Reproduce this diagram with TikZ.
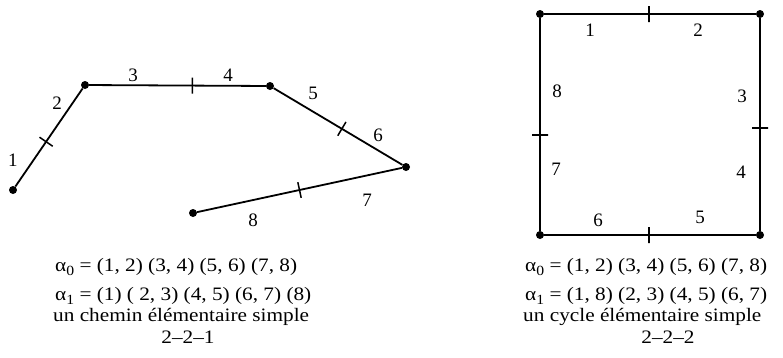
\documentclass[tikz,border=0pt]{standalone}
\usepackage{fontspec}
\setmainfont{Liberation Serif}
\newfontfamily\capfont[FakeStretch=1.12,Ligatures=TeX]{Liberation Serif}
\newcommand{\lowsub}[1]{{\fontsize{14}{14}\selectfont\raisebox{-4pt}{#1}}}
\begin{document}
\begin{tikzpicture}[x=1pt,y=-1pt,
  dot/.style={circle, fill, inner sep=0pt, minimum size=8pt},
  edge/.style={line width=1.8pt},
  tick/.style={draw, line width=1.5pt, rectangle, inner sep=0pt, minimum width=0pt, minimum height=16pt, sloped},
  lab/.style={font=\fontsize{19}{19}\selectfont, inner sep=0pt},
  txt/.style={font=\capfont\fontsize{19}{19}\selectfont, inner sep=0pt, anchor=west}]
\useasboundingbox (0,0) rectangle (783,357);
% left path
\node[dot] (p1) at (13,190) {};
\node[dot] (p2) at (85,85) {};
\node[dot] (p3) at (270,86) {};
\node[dot] (p4) at (406,167) {};
\node[dot] (p5) at (193,213) {};
\draw[edge] (p1) -- node[tick, pos=0.457] {} (p2);
\draw[edge] (p2) -- node[tick, pos=0.584] {} (p3);
\draw[edge] (p3) -- node[tick, pos=0.53] {} (p4);
\draw[edge] (p4) -- node[tick, pos=0.50] {} (p5);
\node[lab] (l1) at (13,160) {1};
\node[lab] (l2) at (57,103) {2};
\node[lab] (l3) at (133,75) {3};
\node[lab] (l4) at (228,75) {4};
\node[lab] (l5) at (313,93) {5};
\node[lab] (l6) at (378,135) {6};
\node[lab] (l7) at (367,200) {7};
\node[lab] (l8) at (253,220) {8};
% right square
\node[dot] (q1) at (540,14) {};
\node[dot] (q2) at (760,14) {};
\node[dot] (q3) at (760,235) {};
\node[dot] (q4) at (540,235) {};
\draw[edge] (q1) -- node[tick, pos=0.495] {} (q2);
\draw[edge] (q2) -- node[tick, pos=0.516] {} (q3);
\draw[edge] (q3) -- node[tick, pos=0.505] {} (q4);
\draw[edge] (q4) -- node[tick, pos=0.45] {} (q1);
\node[lab] (m1) at (590,30) {1};
\node[lab] (m2) at (698,30) {2};
\node[lab] (m3) at (742,96) {3};
\node[lab] (m4) at (741,172) {4};
\node[lab] (m5) at (700,217) {5};
\node[lab] (m6) at (598,220) {6};
\node[lab] (m7) at (556,169) {7};
\node[lab] (m8) at (557,91) {8};
% captions left
\node[txt] (a0) at (55,267) {α\lowsub{0} = (1, 2) (3, 4) (5, 6) (7, 8)};
\node[txt] (a1) at (55,296) {α\lowsub{1} = (1) ( 2, 3) (4, 5) (6, 7) (8)};
\node[txt] (c1) at (53,317) {un chemin élémentaire simple};
\node[txt, anchor=center] (n1) at (188,337) {2–2–1};
% captions right
\node[txt] (b0) at (525,267) {α\lowsub{0} = (1, 2) (3, 4) (5, 6) (7, 8)};
\node[txt] (b1) at (525,296) {α\lowsub{1} = (1, 8) (2, 3) (4, 5) (6, 7)};
\node[txt] (c2) at (523,317) {un cycle élémentaire simple};
\node[txt, anchor=center] (n2) at (668,337) {2–2–2};
\end{tikzpicture}
\end{document}
